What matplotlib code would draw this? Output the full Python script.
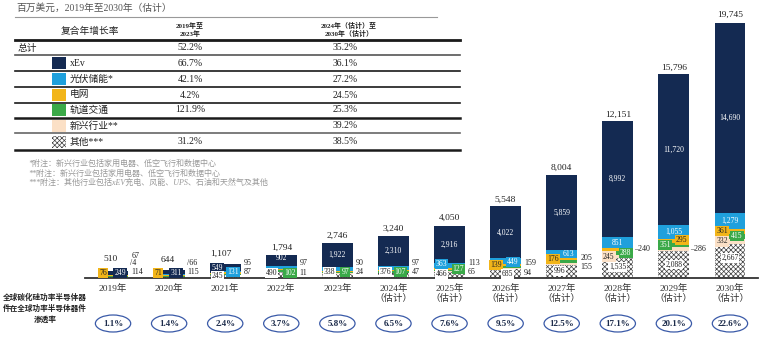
import matplotlib
matplotlib.use('Agg')
import matplotlib.pyplot as plt
from matplotlib.patches import Ellipse, Rectangle
from matplotlib.lines import Line2D
import matplotlib.transforms as mtransforms

plt.rcParams['font.family'] = ['Liberation Serif', 'Noto Sans CJK SC', 'DejaVu Sans']
plt.rcParams['hatch.linewidth'] = 0.5

# ---------------- data ----------------
years = [2019, 2020, 2021, 2022, 2023, 2024, 2025, 2026, 2027, 2028, 2029, 2030]
year_labels = ['2019年', '2020年', '2021年', '2022年', '2023年',
               '2024年\n（估计）', '2025年\n（估计）', '2026年\n（估计）', '2027年\n（估计）',
               '2028年\n（估计）', '2029年\n（估计）', '2030年\n（估计）']
xev      = [249, 311, 549, 902, 1922, 2310, 2916, 4022, 5859, 8992, 11720, 14690]
pv       = [67, 81, 131, 192, 275, 303, 363, 449, 613, 851, 1055, 1279]
grid     = [76, 71, 95, 97, 90, 97, 113, 139, 176, 240, 295, 361]
rail     = [4, 66, 87, 102, 97, 107, 127, 159, 205, 288, 351, 415]
emerging = [0, 0, 0, 11, 24, 47, 65, 94, 155, 245, 286, 332]
others   = [114, 115, 245, 490, 338, 376, 466, 685, 996, 1535, 2088, 2667]
totals   = [510, 644, 1107, 1794, 2746, 3240, 4050, 5548, 8004, 12151, 15796, 19745]
penetration = ['1.1%', '1.4%', '2.4%', '3.7%', '5.8%', '6.5%', '7.6%', '9.5%',
               '12.5%', '17.1%', '20.1%', '22.6%']

table_rows   = ['总计', 'xEv', '光伏储能*', '电网', '轨道交通', '新兴行业**', '其他***']
cagr_19_23   = ['52.2%', '66.7%', '42.1%', '4.2%', '121.9%', '', '31.2%']
cagr_24_30   = ['35.2%', '36.1%', '27.2%', '24.5%', '25.3%', '39.2%', '38.5%']
footnotes = ['*附注：新兴行业包括家用电器、低空飞行和数据中心',
             '**附注：新兴行业包括家用电器、低空飞行和数据中心',
             '***附注：其他行业包括xEV充电、风能、UPS、石油和天然气及其他']

# ---------------- styles ----------------
C = {'xev': '#142a52', 'pv': '#1fa0dc', 'grid': '#f2b519', 'rail': '#3aa948',
     'emerging': '#fbe0c6', 'others': '#ffffff'}
TXT = {'xev': 'white', 'pv': 'white', 'grid': '#222222', 'rail': 'white',
       'emerging': '#222222', 'others': '#222222'}
series = {'others': others, 'emerging': emerging, 'rail': rail, 'grid': grid, 'pv': pv, 'xev': xev}
order = ['others', 'emerging', 'rail', 'grid', 'pv', 'xev']
HATCH = 'xxxxxxx'
HATCH_COLOR = '#404040'

W, H = 761, 338
fig = plt.figure(figsize=(W / 100, H / 100), dpi=100)
fig.patch.set_facecolor('white')

ov = fig.add_axes([0, 0, 1, 1], zorder=0)
ov.set_xlim(0, W)
ov.set_ylim(H, 0)
ov.axis('off')

ax = fig.add_axes([85 / W, 1 - 278 / H, (758 - 85) / W, (278 - 10) / H], zorder=1)
ax.patch.set_alpha(0)
ax.set_xlim(-0.5, 11.5)
ax.set_ylim(0, 20751)

x = list(range(len(years)))
bw = 0.55
bottoms = {}
cum = [0] * len(years)
for key in order:
    vals = series[key]
    bottoms[key] = list(cum)
    if key == 'others':
        ax.bar(x, vals, width=bw, bottom=cum, facecolor='white', edgecolor=HATCH_COLOR,
               hatch=HATCH, linewidth=0)
    else:
        ax.bar(x, vals, width=bw, bottom=cum, color=C[key], linewidth=0)
    cum = [c + v for c, v in zip(cum, vals)]

for s in ['top', 'right', 'left']:
    ax.spines[s].set_visible(False)
ax.spines['bottom'].set_color('#333333')
ax.spines['bottom'].set_linewidth(1.3)
ax.set_yticks([])
ax.set_xticks(x)
ax.set_xticklabels(year_labels, fontsize=6.8, color='#333333', linespacing=1.25)
ax.tick_params(axis='x', length=0, pad=4)

# value labels: (series, kind, dx, dy) offsets in pixels
layout = [
    [('grid', 'box', -10, 3), ('xev', 'box', 7, 0), ('pv', 'right', 3, 19),
     ('rail', 'slash', 2, 13.5), ('others', 'right', 3, 5)],
    [('grid', 'box', -11, 2.2), ('xev', 'box', 7, -1.3), ('rail', 'slash', 2, 13),
     ('others', 'right', 3, 5)],
    [('xev', 'box', -8, -0.8), ('pv', 'box', 8, -0.4), ('others', 'white', -8, 0.4),
     ('grid', 'right', 3, 10), ('rail', 'right', 3, 2.3)],
    [('xev', 'in', 0, 2.7), ('others', 'white', -10, 1.8), ('rail', 'box', 9, -2.1),
     ('grid', 'right', 3, 6.6), ('emerging', 'right', 3, -1.4)],
    [('xev', 'in', 0, 0), ('others', 'white', -8, 3.8), ('rail', 'box', 8, 0.7),
     ('grid', 'right', 3, 8.5), ('emerging', 'right', 3, 1.5)],
    [('xev', 'in', 0, 0), ('others', 'white', -8, 3.6), ('rail', 'box', 7, -0.2),
     ('grid', 'right', 3, 7.5), ('emerging', 'right', 3, 0.8)],
    [('xev', 'in', 0, 0), ('pv', 'box', -8, 1.7), ('others', 'white', -8, 1),
     ('rail', 'box', 9, 1.3), ('grid', 'right', 3, 5.6), ('emerging', 'right', 3, -0.4)],
    [('xev', 'in', 0, 0), ('grid', 'box', -10, 0), ('pv', 'box', 7, -1),
     ('others', 'white', 2, -0.4), ('rail', 'right', 3, 3.9), ('emerging', 'right', 3, -4.4)],
    [('xev', 'in', 0, 0), ('pv', 'in', 7, 0.3), ('grid', 'box', -9, 0),
     ('others', 'white', -2, 0.6), ('rail', 'right', 3, 3.8), ('emerging', 'right', 3, -2.9)],
    [('xev', 'in', 0, 0), ('pv', 'in', 0, 0), ('emerging', 'box', -9, 0),
     ('rail', 'box', 8, 0), ('grid', 'lead', 1, 0.7), ('others', 'white', 0, 1)],
    [('xev', 'in', 0, 0), ('pv', 'in', 0, 0), ('rail', 'box', -9, 0),
     ('grid', 'box', 8, 0.7), ('emerging', 'lead', 1, 0), ('others', 'white', 0, 0)],
    [('xev', 'in', 0, 0), ('pv', 'in', 0, 0), ('grid', 'box', -8, 0.6),
     ('rail', 'box', 7, 0.6), ('emerging', 'box', -8, 0), ('others', 'white', 0, 3)],
]
total_offsets = [(-2, 12), (-1, 10), (-4, 10), (0, 7), (0, 6.5), (0, 7), (0, 8),
                 (0, 7), (0, 7), (0, 6), (0, 6), (0, 8)]

for i, labs in enumerate(layout):
    for key, kind, dx, dy in labs:
        val = series[key][i]
        mid = bottoms[key][i] + val / 2
        txt = f"{val:,}"
        kw = dict(textcoords='offset pixels', va='center', annotation_clip=False)
        if kind == 'in':
            ax.annotate(txt, (i, mid), xytext=(dx, dy), ha='center', fontsize=5.5,
                        color=TXT[key], **kw)
        elif kind == 'box':
            ax.annotate(txt, (i, mid), xytext=(dx, dy), ha='center', fontsize=5.5,
                        color=TXT[key],
                        bbox=dict(boxstyle='square,pad=0.15', fc=C[key], ec='none'), **kw)
        elif kind == 'white':
            ax.annotate(txt, (i, mid), xytext=(dx, dy), ha='center', fontsize=5.5,
                        color='#222222',
                        bbox=dict(boxstyle='square,pad=0.1', fc='white', ec='none'), **kw)
        else:
            prefix = {'right': '', 'slash': '/', 'lead': '–'}[kind]
            ax.annotate(prefix + txt, (i + bw / 2, mid), xytext=(dx, dy), ha='left',
                        fontsize=5.8, color='#222222', **kw)

for i, t in enumerate(totals):
    dx, dy = total_offsets[i]
    ax.annotate(f"{t:,}", (i, cum[i]), xytext=(dx, dy), textcoords='offset pixels',
                ha='center', va='center', fontsize=6.8, color='#222222', annotation_clip=False)

# penetration ellipses
blend = mtransforms.blended_transform_factory(ax.transData, ov.transData)
for i, p in enumerate(penetration):
    e = Ellipse((i, 323.5), width=0.63, height=17, transform=blend, fill=False,
                edgecolor='#3a5aa8', linewidth=0.9, clip_on=False)
    ov.add_patch(e)
    ov.text(i, 323.5, p, transform=blend, ha='center', va='center', fontsize=6.5,
            fontweight='bold', color='#1c2b4a')

for yy, line in zip([298, 309, 320], ['全球碳化硅功率半导体器', '件在全球功率半导体器件', '渗透率']):
    ov.text(45, yy, line, ha='center', va='center', fontsize=5.5, fontweight='bold', color='#222222')

# ---------------- table ----------------
ov.text(16, 8, '百万美元，2019年至2030年（估计）', ha='left', va='center', fontsize=7, color='#555555')
ov.add_line(Line2D([15, 437], [17, 17], color='#999999', lw=0.8))
ov.text(90, 31, '复合年增长率', ha='center', va='center', fontsize=7, color='#222222')
ov.text(190, 29.5, '2019年至\n2023年', ha='center', va='center', fontsize=5, fontweight='bold',
        color='#222222', linespacing=1.3)
ov.text(349, 29.5, '2024年（估计）至\n2030年（估计）', ha='center', va='center', fontsize=5,
        fontweight='bold', color='#222222', linespacing=1.3)

for yy, lw, col in [(40, 2.0, '#1a1a1a'), (55, 1.2, '#555555'), (71, 1.2, '#1a1a1a'),
                    (87, 1.2, '#1a1a1a'), (103, 1.2, '#1a1a1a'), (118, 1.8, '#1a1a1a'),
                    (133, 1.2, '#666666'), (150, 1.8, '#1a1a1a')]:
    ov.add_line(Line2D([15, 460], [yy, yy], color=col, lw=lw))

row_y = [48, 63, 79, 95, 110, 126, 142]
row_keys = [None, 'xev', 'pv', 'grid', 'rail', 'emerging', 'others']
for yy, name, key, c1, c2 in zip(row_y, table_rows, row_keys, cagr_19_23, cagr_24_30):
    if key is None:
        ov.text(18, yy, name, ha='left', va='center', fontsize=7, color='#222222')
    else:
        if key == 'others':
            ov.add_patch(Rectangle((52, yy - 6), 14, 12, facecolor='white', edgecolor=HATCH_COLOR,
                                   hatch=HATCH, linewidth=0))
        else:
            ov.add_patch(Rectangle((52, yy - 6), 14, 12, facecolor=C[key], linewidth=0))
        ov.text(70, yy, name, ha='left', va='center', fontsize=7, color='#222222')
    if c1:
        ov.text(190, yy, c1, ha='center', va='center', fontsize=7, color='#222222')
    ov.text(345, yy, c2, ha='center', va='center', fontsize=7, color='#222222')

for yy, note in zip([164, 174, 183], footnotes):
    ov.text(28, yy, note, ha='left', va='center', fontsize=5.8, color='#999999', style='italic')

fig.savefig('out.png', dpi=100, facecolor='white')
